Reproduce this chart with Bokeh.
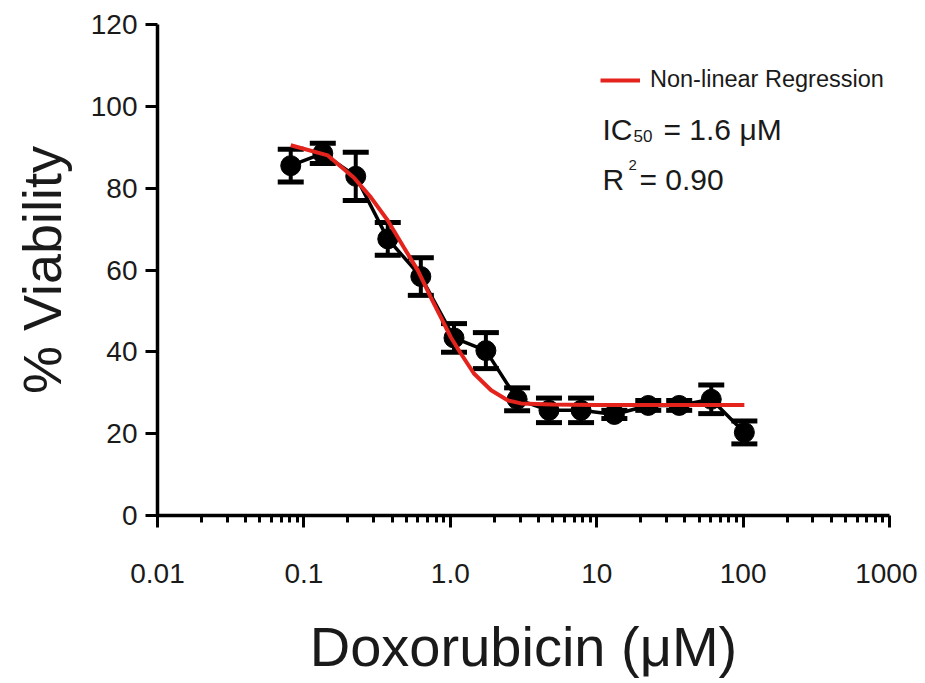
from bokeh.plotting import figure
from bokeh.models import (ColumnDataSource, Whisker, TeeHead, FixedTicker, Legend,
                          LegendItem, Label, Range1d)
from bokeh.embed import file_html
from bokeh.resources import INLINE

# ---- data ----
conc_uM = [0.0813, 0.1346, 0.226, 0.374, 0.629, 1.06, 1.75, 2.86, 4.72, 7.82,
           13.2, 22.5, 36.6, 60.6, 102.0]
viability = [85.5, 88.5, 82.9, 67.6, 58.4, 43.4, 40.3, 28.4, 25.7, 25.7,
             24.7, 26.9, 26.9, 28.4, 20.3]
error = [4.0, 2.5, 5.9, 4.0, 4.6, 3.5, 4.4, 2.8, 3.0, 3.0,
         1.0, 1.2, 1.2, 3.5, 2.8]

fit_conc = [0.0813, 0.1456, 0.219, 0.286, 0.374, 0.482, 0.600, 0.736, 0.863,
            1.01, 1.18, 1.45, 1.90, 2.48, 3.04, 5.0, 10.0, 30.0, 102.0]
fit_viability = [90.5, 88.0, 82.6, 77.8, 72.1, 65.5, 59.9, 53.3, 48.4,
                 43.5, 39.6, 34.7, 30.6, 28.1, 27.4, 27.1, 27.0, 27.0, 27.0]

x_ticks = [0.01, 0.1, 1, 10, 100, 1000]
x_tick_labels = ["0.01", "0.1", "1.0", "10", "100", "1000"]
y_ticks = [0, 20, 40, 60, 80, 100, 120]

FONT = "Liberation Sans"
TXT = "#1a1a1a"

p = figure(width=917, height=680, x_axis_type="log",
           x_range=Range1d(0.01, 1000), y_range=Range1d(0, 120),
           output_backend="svg", toolbar_location=None,
           min_border_left=157, min_border_right=28,
           min_border_top=24, min_border_bottom=165)
p.outline_line_color = None
p.xgrid.grid_line_color = None
p.ygrid.grid_line_color = None
p.background_fill_color = "white"
p.border_fill_color = "white"

# axes styling
minor = [m * 10.0 ** e for e in range(-2, 3) for m in range(2, 10)]
p.xaxis.ticker = FixedTicker(ticks=x_ticks, minor_ticks=minor)
p.xaxis.major_label_overrides = {t: l for t, l in zip(x_ticks, x_tick_labels)}
p.yaxis.ticker = FixedTicker(ticks=y_ticks)

for ax in (p.xaxis[0], p.yaxis[0]):
    ax.axis_line_width = 3.5
    ax.axis_line_color = "black"
    ax.major_tick_line_width = 3
    ax.major_tick_line_color = "black"
    ax.major_tick_in = 0
    ax.major_tick_out = 12
    ax.major_label_text_font = FONT
    ax.major_label_text_font_size = "28px"
    ax.major_label_text_color = TXT
    ax.axis_label_text_font = FONT
    ax.axis_label_text_font_style = "normal"
    ax.axis_label_text_color = TXT

p.xaxis.minor_tick_line_width = 3
p.xaxis.minor_tick_line_color = "black"
p.xaxis.minor_tick_in = 0
p.xaxis.minor_tick_out = 7
p.xaxis.major_label_standoff = 36
p.xaxis.axis_label = "Doxorubicin (μM)"
p.xaxis.axis_label_text_font_size = "56px"
p.xaxis.axis_label_standoff = 29

p.yaxis.minor_tick_line_color = None
p.yaxis.major_label_standoff = 8
p.yaxis.axis_label = "% Viability"
p.yaxis.axis_label_text_font_size = "54px"
p.yaxis.axis_label_standoff = 16

# data
upper = [v + e for v, e in zip(viability, error)]
lower = [v - e for v, e in zip(viability, error)]
src = ColumnDataSource(dict(x=conc_uM, y=viability, upper=upper, lower=lower))

p.line("x", "y", source=src, line_color="black", line_width=3.5)
wh = Whisker(base="x", upper="upper", lower="lower", source=src,
             line_color="black", line_width=4,
             upper_head=TeeHead(size=26, line_width=5, line_color="black"),
             lower_head=TeeHead(size=26, line_width=5, line_color="black"))
p.add_layout(wh)
p.scatter("x", "y", source=src, size=20, fill_color="black", line_color="black")

r_fit = p.line(fit_conc, fit_viability, line_color="#e3231c", line_width=4)

legend = Legend(items=[LegendItem(label="Non-linear Regression", renderers=[r_fit])],
                location=(443, 422), padding=0, margin=0, glyph_width=40,
                glyph_height=24, label_standoff=10,
                label_text_font=FONT, label_text_font_size="23.5px",
                label_text_color=TXT, border_line_color=None,
                background_fill_alpha=0)
p.add_layout(legend)

def lab(x, y, text, size):
    p.add_layout(Label(x=x, y=y, x_units="screen", y_units="screen", text=text,
                       text_font=FONT, text_font_size=size, text_color=TXT,
                       text_baseline="alphabetic", text_align="left"))

lab(445, 386, "IC", "30px")
lab(476, 380, "50", "17px")
lab(506, 386, "= 1.6 μM", "30px")
lab(445, 336, "R", "30px")
lab(471, 351, "2", "15px")
lab(482, 336, "= 0.90", "30px")

open("out.html", "w").write(file_html(p, INLINE))
